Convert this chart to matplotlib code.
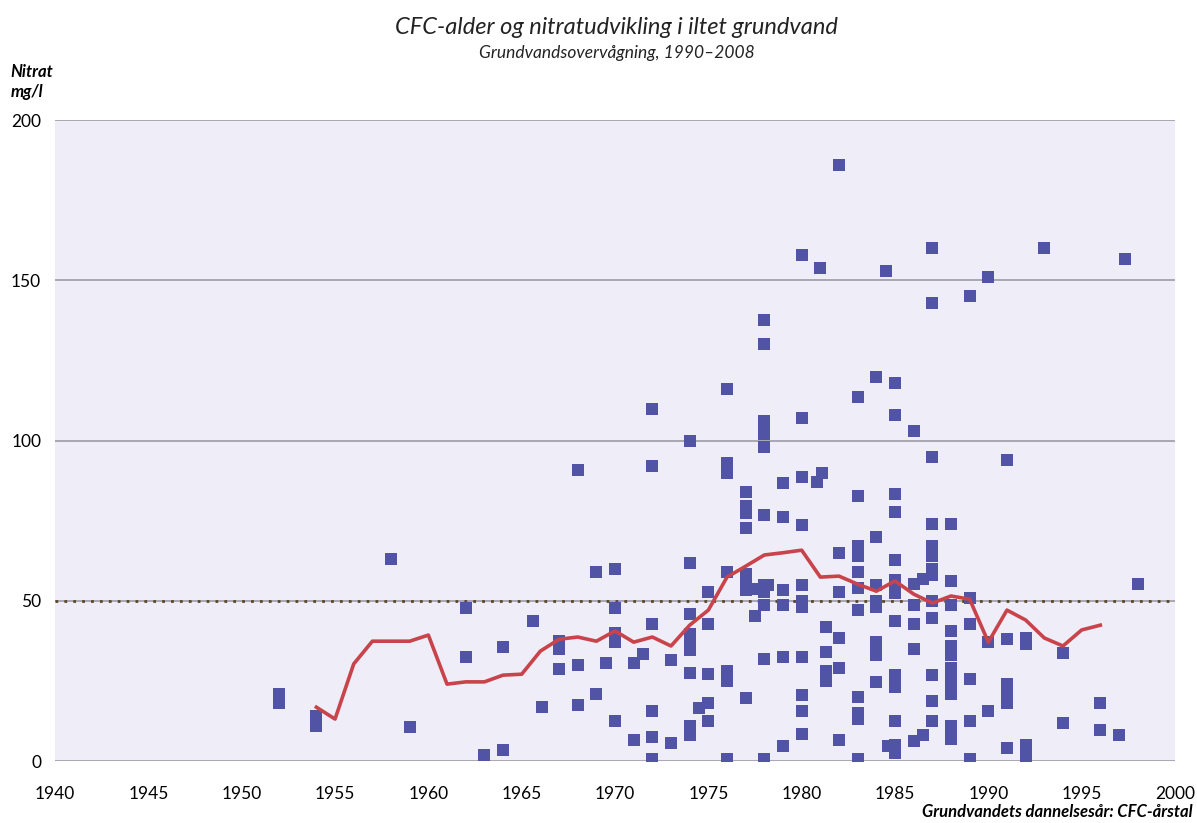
import matplotlib
matplotlib.use('Agg')
import matplotlib.pyplot as plt
import numpy as np

# single measurements: CFC year -> nitrate mg/l
years = [1952, 1952, 1954, 1954, 1954, 1958, 1959,
         1962, 1962, 1963, 1964, 1964, 1965.6, 1966.1,
         1967, 1967, 1967, 1968, 1968, 1968,
         1969, 1969, 1969.5,
         1970, 1970, 1970, 1970, 1970, 1971, 1971, 1971.5,
         1972, 1972, 1972, 1972, 1972, 1972, 1973, 1973,
         1974, 1974, 1974, 1974, 1974, 1974, 1974, 1974, 1974, 1974.5,
         1975, 1975, 1975, 1975, 1975,
         1976, 1976, 1976, 1976, 1976, 1976, 1976,
         1977, 1977, 1977, 1977, 1977, 1977, 1977, 1977, 1977.5, 1977.5,
         1978, 1978, 1978, 1978, 1978, 1978, 1978, 1978, 1978, 1978, 1978, 1978, 1978.2,
         1979, 1979, 1979, 1979, 1979, 1979,
         1980, 1980, 1980, 1980, 1980, 1980, 1980, 1980, 1980, 1980, 1980,
         1981, 1980.8, 1981.1, 1981.3, 1981.3, 1981.3, 1981.3,
         1982, 1982, 1982, 1982, 1982, 1982,
         1983, 1983, 1983, 1983, 1983, 1983, 1983, 1983, 1983, 1983, 1983,
         1984, 1984, 1984, 1984, 1984, 1984, 1984, 1984, 1984, 1984.5, 1984.6,
         1985, 1985, 1985, 1985, 1985, 1985, 1985, 1985, 1985, 1985, 1985, 1985, 1985, 1985, 1985,
         1986, 1986, 1986, 1986, 1986, 1986, 1986.5, 1986.5,
         1987, 1987, 1987, 1987, 1987, 1987, 1987, 1987, 1987, 1987, 1987, 1987, 1987,
         1988, 1988, 1988, 1988, 1988, 1988, 1988, 1988, 1988, 1988, 1988, 1988, 1988, 1988,
         1989, 1989, 1989, 1989, 1989, 1989,
         1990, 1990, 1990,
         1991, 1991, 1991, 1991, 1991, 1991,
         1992, 1992, 1992, 1992, 1992,
         1993, 1994, 1994, 1996, 1996, 1997, 1997.3, 1998]
nitrate = [21, 18, 14, 12.5, 11, 63, 10.6,
           47.7, 32.4, 1.8, 35.5, 3.3, 43.6, 16.8,
           37.5, 35, 28.7, 90.8, 29.9, 17.4,
           58.9, 20.8, 30.6,
           59.9, 47.7, 40, 37, 12.5, 30.6, 6.5, 33.4,
           110, 92, 42.7, 15.6, 7.5, 0.6, 31.5, 5.6,
           100, 61.8, 45.9, 39.5, 37, 34.5, 27.5, 11, 8, 16.5,
           52.7, 42.7, 27.1, 18, 12.5,
           116, 93, 90, 58.9, 28, 25, 0.6,
           84, 79.5, 77.5, 72.7, 58.5, 56.5, 53.5, 19.6, 53.6, 45.2,
           137.5, 130, 106, 104, 102, 98, 76.7, 54.9, 52.7, 48.7, 31.8, 0.6, 55,
           86.7, 76, 53.3, 48.7, 32.4, 4.7,
           158, 107, 88.5, 73.6, 55, 50, 48, 32.4, 20.6, 15.6, 8.4,
           154, 87, 90, 41.8, 34, 28, 25,
           186, 64.9, 52.7, 38.4, 29, 6.5,
           113.6, 82.6, 67, 64, 59, 54, 47, 20, 15, 13, 0.6,
           120, 70, 55, 50, 48, 37, 35, 33, 24.6, 152.8, 4.7,
           118, 108, 83.3, 77.7, 62.7, 56.5, 54, 52.5, 43.6, 27, 25, 23, 12.5, 5, 2.5,
           103, 55.2, 48.7, 42.7, 34.9, 6.2, 56.8, 8.1,
           160, 143, 95, 74, 67, 64, 60, 58, 50, 44.6, 26.8, 18.7, 12.5,
           74, 56.2, 48.7, 40.6, 36, 33, 29, 27, 25, 23, 21, 11, 9, 7,
           145, 50.9, 42.7, 25.6, 12.5, 0.6,
           151, 37.1, 15.6,
           93.8, 38, 24, 21, 18, 4,
           38.5, 36.5, 5, 3, 1.5,
           160, 33.7, 11.9, 18, 9.7, 8.1, 156.6, 55.2]

# yearly mean
mean_years = list(range(1954, 1997))
mean_nitrate = [16.8, 13.1, 30.3, 37.4, 37.4, 37.4, 39.3, 24, 24.7, 24.7,
                26.8, 27.1, 34.3, 38, 38.7, 37.4, 40.6, 37.1, 38.7, 35.9,
                42.4, 47.1, 57.4, 60.8, 64.3, 65, 65.8, 57.4, 57.7, 55.2,
                53, 56.2, 52.1, 49.3, 51.5, 50.5, 37.1, 47.1, 44, 38.4,
                35.9, 40.9, 42.4]

limit = 50
xticks = list(range(1940, 2001, 5))
yticks = [0, 50, 100, 150, 200]

plt.rcParams['font.family'] = ['Lato', 'DejaVu Sans']

fig = plt.figure(figsize=(11.97, 8.23), dpi=100)
ax = fig.add_axes([0.046, 0.0753, 0.9356, 0.7787])
ax.set_facecolor('#EFEDF7')

for y in yticks:
    ax.axhline(y, color='#A3A1AE', lw=1.3, zorder=1)

ax.axhline(limit, color='#5A4628', lw=2, ls=(0, (1, 2.2)), zorder=2)
ax.scatter(years, nitrate, marker='s', s=64, color='#5154A4', linewidths=0, zorder=3)
ax.plot(mean_years, mean_nitrate, color='#C9434B', lw=2.6, zorder=4)

ax.set_xlim(1940, 2000)
ax.set_ylim(0, 200)
ax.set_xticks(xticks)
ax.set_yticks(yticks)
ax.tick_params(length=0, labelsize=12.5, colors='black')
ax.tick_params(axis='x', pad=18)
ax.tick_params(axis='y', pad=10)
for s in ax.spines.values():
    s.set_visible(False)

fig.text(0.515, 0.966, 'CFC-alder og nitratudvikling i iltet grundvand',
         ha='center', va='center', fontsize=17, style='italic', color='#222222')
fig.text(0.515, 0.936, 'Grundvandsovervågning, 1990–2008',
         ha='center', va='center', fontsize=12.5, style='italic', color='#222222')
fig.text(0.009, 0.913, 'Nitrat', ha='left', va='center', fontsize=12,
         style='italic', fontweight='bold')
fig.text(0.009, 0.888, 'mg/l', ha='left', va='center', fontsize=12,
         style='italic', fontweight='bold')
fig.text(0.996, 0.004, 'Grundvandets dannelsesår: CFC-årstal', ha='right',
         va='bottom', fontsize=12, style='italic', fontweight='bold')

fig.savefig('out.png', dpi=100)
